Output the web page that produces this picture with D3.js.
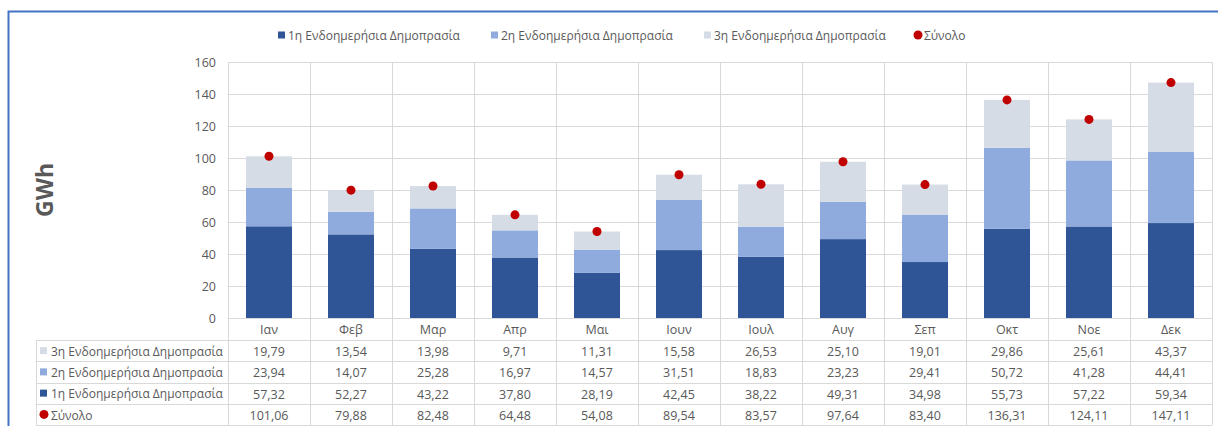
<!DOCTYPE html>
<html><head><meta charset="utf-8">
<script src="https://cdn.jsdelivr.net/npm/d3@7"></script>
<style>
body{margin:0;background:#fff;}
svg{display:block;font-family:"Open Sans","Noto Sans",sans-serif;}
</style></head>
<body><svg id="c" width="1218" height="426"></svg>
<script>
const months = ["Ιαν","Φεβ","Μαρ","Απρ","Μαι","Ιουν","Ιουλ","Αυγ","Σεπ","Οκτ","Νοε","Δεκ"];
const auction1 = [57.32,52.27,43.22,37.80,28.19,42.45,38.22,49.31,34.98,55.73,57.22,59.34];
const auction2 = [23.94,14.07,25.28,16.97,14.57,31.51,18.83,23.23,29.41,50.72,41.28,44.41];
const auction3 = [19.79,13.54,13.98,9.71,11.31,15.58,26.53,25.10,19.01,29.86,25.61,43.37];
const totals = [101.06,79.88,82.48,64.48,54.08,89.54,83.57,97.64,83.40,136.31,124.11,147.11];
const seriesNames = ["1η Ενδοημερήσια Δημοπρασία","2η Ενδοημερήσια Δημοπρασία","3η Ενδοημερήσια Δημοπρασία","Σύνολο"];
const yTicks = [0,20,40,60,80,100,120,140,160];

const colors = ["#2F5597","#8FAADC","#D6DCE5"];
const red = "#C00000";
const grid = "#D9D9D9";
const txt = "#595959";
const fmt = v => v.toFixed(2).replace(".", ",");

const svg = d3.select("#c");
const L = 228, R = 1212, T = 62, B = 318;
const x = d3.scaleBand().domain(months).range([L, R]).paddingInner(0).paddingOuter(0);
const y = d3.scaleLinear().domain([0,160]).range([B, T]);

// frame
svg.append("path").attr("d","M8.5,426 V11.5 H1218").attr("fill","none").attr("stroke","#4472C4").attr("stroke-width",2);

// horizontal gridlines
svg.append("g").selectAll("line").data(yTicks).join("line")
  .attr("x1",L).attr("x2",R).attr("y1",d=>Math.round(y(d))+0.5).attr("y2",d=>Math.round(y(d))+0.5)
  .attr("stroke",grid).attr("stroke-width",1);

// vertical lines (category boundaries extend into table)
const tableBottom = 425;
const bounds = months.map(m=>x(m)).concat([R]);
svg.append("g").selectAll("line").data(bounds).join("line")
  .attr("x1",d=>Math.round(d)+0.5).attr("x2",d=>Math.round(d)+0.5).attr("y1",T).attr("y2",tableBottom)
  .attr("stroke",grid).attr("stroke-width",1);

// y axis labels
const yAxis = d3.axisLeft(y).tickValues(yTicks).tickSize(0).tickPadding(0);
const ga = svg.append("g").attr("transform",`translate(${L-12},0)`).call(yAxis);
ga.select(".domain").remove();
ga.selectAll("text").attr("fill",txt).attr("font-size",12.5).attr("font-family","Open Sans, sans-serif").attr("dy","0.35em");

// y title
svg.append("text").attr("transform","translate(53,190) rotate(-90)").attr("text-anchor","middle")
  .attr("fill",txt).attr("font-size",23).attr("font-weight","bold").text("GWh");

// stacked bars
const rows = months.map((m,i)=>({m, a1:auction1[i], a2:auction2[i], a3:auction3[i]}));
const stack = d3.stack().keys(["a1","a2","a3"])(rows);
const bw = 46;
svg.append("g").selectAll("g").data(stack).join("g").attr("fill",(d,i)=>colors[i])
  .selectAll("rect").data(d=>d).join("rect")
  .attr("x",d=>x(d.data.m)+x.bandwidth()/2-bw/2).attr("width",bw)
  .attr("y",d=>y(d[1])).attr("height",d=>y(d[0])-y(d[1]));

// total dots
svg.append("g").selectAll("circle").data(totals).join("circle")
  .attr("cx",(d,i)=>x(months[i])+x.bandwidth()/2).attr("cy",d=>y(d)).attr("r",4.5).attr("fill",red);

// table
const rowH = 21.25;
const catTop = B, firstRow = 340;
const tableLeft = 36;
svg.append("g").selectAll("text").data(months).join("text")
  .attr("x",d=>x(d)+x.bandwidth()/2).attr("y",(catTop+firstRow)/2+1).attr("dy","0.35em")
  .attr("text-anchor","middle").attr("fill",txt).attr("font-size",12.5).text(d=>d);

const tableRows = [
  {name:seriesNames[2], vals:auction3, key:"sq", color:colors[2]},
  {name:seriesNames[1], vals:auction2, key:"sq", color:colors[1]},
  {name:seriesNames[0], vals:auction1, key:"sq", color:colors[0]},
  {name:seriesNames[3], vals:totals, key:"dot", color:red}
];
const hl = d3.range(5).map(i=>firstRow + i*rowH);
svg.append("g").selectAll("line").data(hl).join("line")
  .attr("x1",tableLeft).attr("x2",R).attr("y1",d=>Math.round(d)+0.5).attr("y2",d=>Math.round(d)+0.5)
  .attr("stroke",grid);
svg.append("line").attr("x1",tableLeft+0.5).attr("x2",tableLeft+0.5).attr("y1",firstRow).attr("y2",tableBottom).attr("stroke",grid);

tableRows.forEach((r,ri)=>{
  const cy = firstRow + ri*rowH + rowH/2;
  const g = svg.append("g");
  if(r.key==="sq") g.append("rect").attr("x",40).attr("y",cy-3.5).attr("width",7).attr("height",7).attr("fill",r.color);
  else g.append("circle").attr("cx",44).attr("cy",cy).attr("r",4.5).attr("fill",r.color);
  g.append("text").attr("x",51).attr("y",cy+1).attr("dy","0.35em").attr("fill",txt).attr("font-size",12).text(r.name);
  g.selectAll("text.v").data(r.vals).join("text").attr("class","v")
    .attr("x",(d,i)=>x(months[i])+x.bandwidth()/2).attr("y",cy+1).attr("dy","0.35em")
    .attr("text-anchor","middle").attr("fill",txt).attr("font-size",12.5).text(d=>fmt(d));
});

// legend
const legendItems = [
  {name:seriesNames[0], key:"sq", color:colors[0], x:278},
  {name:seriesNames[1], key:"sq", color:colors[1], x:491},
  {name:seriesNames[2], key:"sq", color:colors[2], x:704},
  {name:seriesNames[3], key:"dot", color:red, x:914}
];
const ly = 35;
const lg = svg.append("g").selectAll("g").data(legendItems).join("g");
lg.filter(d=>d.key==="sq").append("rect").attr("x",d=>d.x).attr("y",ly-3.5).attr("width",7).attr("height",7).attr("fill",d=>d.color);
lg.filter(d=>d.key==="dot").append("circle").attr("cx",d=>d.x+4).attr("cy",ly).attr("r",4.5).attr("fill",d=>d.color);
lg.append("text").attr("x",d=>d.x+10).attr("y",ly+1).attr("dy","0.35em").attr("fill",txt).attr("font-size",12).text(d=>d.name);
</script></body></html>
